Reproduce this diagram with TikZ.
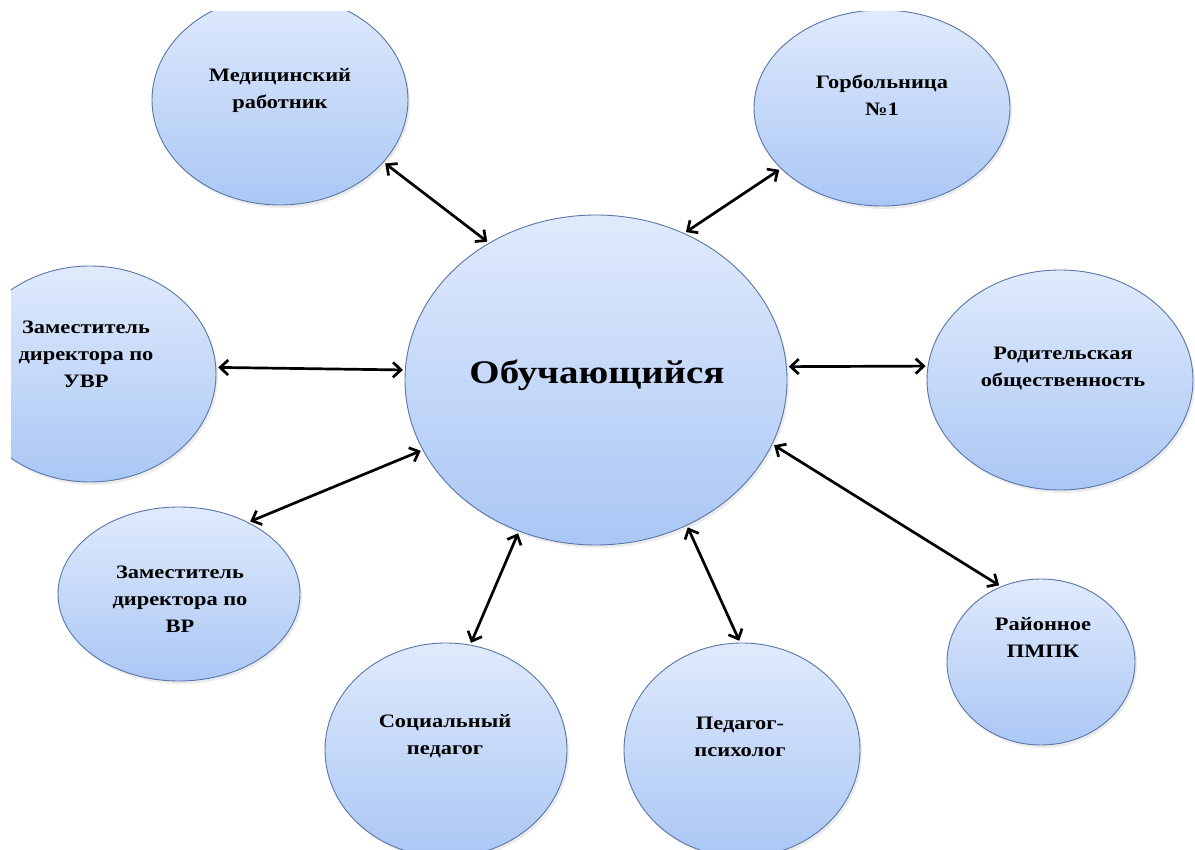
\documentclass[tikz,border=0pt]{standalone}
\usepackage{fontspec}
\setmainfont{Liberation Serif}[FakeStretch=1.18]
\usepackage{tikz}
\usetikzlibrary{shapes,
        shadows,
        arrows.meta}
\usepackage{xcolor}
\definecolor{bubtop}{RGB}{224,234,252}
\definecolor{bubbot}{RGB}{170,199,245}
\definecolor{bubline}{RGB}{88,118,170}

\begin{document}
\begin{tikzpicture}[x=1pt,y=-1pt,
        bubble/.style={ellipse,draw=bubline,line width=0.9pt,top color=bubtop,bottom color=bubbot,inner sep=0pt,
                drop shadow={shadow xshift=2pt,shadow yshift=-3pt,opacity=0.15}},
        lbl/.style={font=\bfseries\fontsize{19}{27}\selectfont,align=center},
        link/.style={{Straight Barb[length=8pt,width=15pt]}-{Straight Barb[length=8pt,width=15pt]},line width=2.7pt,shorten <=2pt,shorten >=2pt}]
            \useasboundingbox (0,0) rectangle (1195,850);
            \begin{scope}
            \clip (11,12) rectangle (1195,850);
            \node [bubble,minimum width=382pt,minimum height=330pt] (obu) at (596,380) {};
            \node [bubble,minimum width=256pt,minimum height=210pt] (med) at (280,100) {};
            \node [bubble,minimum width=256pt,minimum height=196pt] (gor) at (882,108) {};
            \node [bubble,minimum width=252pt,minimum height=216pt] (uvr) at (90,374) {};
            \node [bubble,minimum width=266pt,minimum height=220pt] (rod) at (1060,380) {};
            \node [bubble,minimum width=242pt,minimum height=174pt] (vr) at (179,594) {};
            \node [bubble,minimum width=242pt,minimum height=214pt] (soc) at (446,750) {};
            \node [bubble,minimum width=236pt,minimum height=214pt] (psy) at (742,750) {};
            \node [bubble,minimum width=188pt,minimum height=166pt] (pmpk) at (1041,662) {};

            \node [lbl,font=\bfseries\fontsize{33}{36}\selectfont] (obuT) at (597,375) {Обучающийся};
            \node [lbl] (medT) at (280,90) {Медицинский\\работник};
            \node [lbl] (gorT) at (882,95) {Горбольница\\№1};
            \node [lbl] (uvrT) at (86,354) {Заместитель\\директора по\\УВР};
            \node [lbl] (rodT) at (1063,368) {Родительская\\общественность};
            \node [lbl] (vrT) at (180,599) {Заместитель\\директора по\\ВР};
            \node [lbl] (socT) at (445,736) {Социальный\\педагог};
            \node [lbl] (psyT) at (740,737) {Педагог-\\психолог};
            \node [lbl] (pmpkT) at (1043,637) {Районное\\ПМПК};
            \end{scope}

            \draw [link] (med.-31) -- (obu.128);
            \draw [link] (obu.59) -- (gor.211);
            \draw [link] (uvr.3) -- (obu.177);
            \draw [link] (obu.4) -- (rod.174);
            \draw [link] (vr.46) -- (obu.202);
            \draw [link] (obu.243) -- (soc.77);
            \draw [link] (obu.-58) -- (psy.91);
            \draw [link] (obu.-20) -- (pmpk.118);
        \end{tikzpicture}
\end{document}
